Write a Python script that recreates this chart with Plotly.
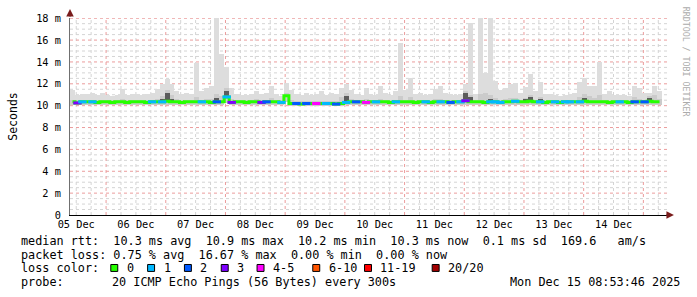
import plotly.graph_objects as go
import pandas as pd

# ---------------- data ----------------
bin_start = "2025-12-05 10:30"   # centre of first 2-hour bin
bin_count = 119

rtt_median = [10.35, 10.25, 10.35, 10.35, 10.35, 10.3, 10.35, 10.35, 10.3, 10.35,
              10.35, 10.3, 10.35, 10.35, 10.35, 10.3, 10.35, 10.35, 10.35, 10.4,
              10.35, 10.35, 10.3, 10.35, 10.35, 10.35, 10.35, 10.35, 10.3, 10.35,
              10.35, 10.8, 10.3, 10.35, 10.35, 10.3, 10.35, 10.35, 10.3, 10.35,
              10.35, 10.35, 10.3, 10.9, 10.2, 10.2, 10.15, 10.2, 10.2, 10.2,
              10.2, 10.2, 10.2, 10.15, 10.2, 10.3, 10.35, 10.35, 10.35, 10.3,
              10.35, 10.35, 10.35, 10.35, 10.3, 10.35, 10.35, 10.35, 10.35, 10.3,
              10.35, 10.35, 10.3, 10.35, 10.35, 10.35, 10.3, 10.35, 10.35, 10.45,
              10.35, 10.35, 10.35, 10.3, 10.35, 10.35, 10.3, 10.35, 10.35, 10.4,
              10.35, 10.35, 10.4, 10.35, 10.35, 10.3, 10.35, 10.35, 10.3, 10.35,
              10.35, 10.35, 10.35, 10.4, 10.35, 10.35, 10.35, 10.35, 10.3, 10.35,
              10.35, 10.35, 10.3, 10.35, 10.35, 10.35, 10.4, 10.35, 10.35]

rtt_min = [10.1, 10.05, 10.1, 10.1, 10.1, 10.1, 10.1, 10.1, 10.1, 10.1,
           10.1, 10.1, 10.1, 10.1, 10.1, 10.1, 10.1, 10.1, 10.1, 10.1,
           10.1, 10.1, 10.1, 10.1, 10.1, 10.1, 10.1, 10.1, 10.1, 10.1,
           10.1, 10.2, 10.1, 10.1, 10.1, 10.1, 10.1, 10.1, 10.1, 10.1,
           10.1, 10.1, 10.1, 10.3, 10.0, 10.0, 10.0, 10.0, 10.0, 10.0,
           10.0, 10.0, 10.0, 10.0, 10.0, 10.1, 10.1, 10.1, 10.1, 10.1,
           10.1, 10.1, 10.1, 10.1, 10.1, 10.1, 10.1, 10.1, 10.1, 10.1,
           10.1, 10.1, 10.1, 10.1, 10.1, 10.1, 10.1, 10.1, 10.1, 10.1,
           10.1, 10.1, 10.1, 10.1, 10.1, 10.1, 10.1, 10.1, 10.1, 10.1,
           10.1, 10.1, 10.1, 10.1, 10.1, 10.1, 10.1, 10.1, 10.1, 10.1,
           10.1, 10.1, 10.1, 10.1, 10.1, 10.1, 10.1, 10.1, 10.1, 10.1,
           10.1, 10.1, 10.1, 10.1, 10.1, 10.1, 10.1, 10.1, 10.1]

rtt_p75 = [10.55, 10.55, 10.55, 10.55, 10.55, 10.55, 10.55, 10.55, 10.55, 10.55,
           10.65, 10.55, 10.55, 10.55, 10.55, 10.55, 10.55, 10.65, 10.9, 11.4,
           11.0, 10.6, 10.55, 10.55, 10.55, 10.8, 10.55, 10.6, 10.6, 11.1,
           10.9, 11.6, 10.6, 10.55, 10.55, 10.55, 10.55, 10.6, 10.55, 10.55,
           10.7, 10.55, 10.5, 11.2, 10.5, 10.4, 10.4, 10.4, 10.4, 10.4,
           10.45, 10.4, 10.4, 10.4, 10.8, 11.2, 10.6, 10.55, 10.55, 10.6,
           10.55, 10.55, 10.6, 10.55, 10.55, 10.55, 10.9, 10.55, 10.8, 10.55,
           10.55, 10.55, 10.55, 10.6, 10.6, 10.55, 10.55, 10.55, 10.55, 11.3,
           11.0, 10.55, 11.1, 11.2, 11.0, 10.7, 10.55, 10.6, 10.7, 10.7,
           10.55, 10.7, 11.0, 10.55, 10.8, 10.55, 10.55, 10.55, 10.55, 10.55,
           10.55, 10.55, 10.8, 11.1, 10.9, 10.7, 11.0, 10.55, 10.55, 10.55,
           10.55, 10.55, 10.55, 10.8, 10.6, 10.55, 10.9, 11.0, 10.6]

rtt_dark = [10.35, 10.25, 10.35, 10.35, 10.35, 10.3, 10.35, 10.35, 10.3, 10.35,
            10.35, 10.3, 10.35, 10.35, 10.35, 10.3, 10.35, 10.35, 10.6, 11.2,
            10.6, 10.35, 10.3, 10.35, 10.35, 10.35, 10.35, 10.35, 10.3, 10.7,
            10.35, 11.3, 10.3, 10.35, 10.35, 10.3, 10.35, 10.35, 10.3, 10.35,
            10.35, 10.35, 10.3, 10.95, 10.2, 10.2, 10.15, 10.2, 10.2, 10.2,
            10.2, 10.2, 10.2, 10.15, 10.2, 10.9, 10.35, 10.35, 10.35, 10.3,
            10.35, 10.35, 10.35, 10.35, 10.3, 10.35, 10.35, 10.35, 10.35, 10.3,
            10.35, 10.35, 10.3, 10.35, 10.35, 10.35, 10.3, 10.35, 10.35, 11.2,
            10.8, 10.35, 10.35, 10.3, 10.6, 10.35, 10.3, 10.35, 10.35, 10.4,
            10.35, 10.6, 10.8, 10.35, 10.6, 10.3, 10.35, 10.35, 10.3, 10.35,
            10.35, 10.35, 10.35, 10.7, 10.35, 10.35, 10.35, 10.35, 10.3, 10.35,
            10.35, 10.35, 10.3, 10.35, 10.35, 10.35, 10.7, 10.35, 10.35]

rtt_max = [11.4, 11.0, 11.1, 11.1, 11.2, 11.0, 11.2, 11.0, 10.9, 11.0,
           11.5, 11.0, 11.1, 11.1, 11.0, 11.1, 11.2, 11.5, 12.0, 12.4,
           12.0, 11.3, 11.1, 11.2, 11.1, 13.9, 11.3, 11.6, 11.8, 18.1,
           14.7, 13.5, 11.6, 11.1, 11.0, 11.0, 11.1, 11.3, 11.1, 11.2,
           11.8, 11.1, 10.9, 12.1, 11.4, 11.1, 11.0, 11.2, 11.0, 11.1,
           11.3, 11.0, 11.2, 11.1, 11.6, 12.0, 11.4, 11.1, 11.0, 11.6,
           11.1, 11.0, 11.8, 11.2, 11.0, 11.3, 15.7, 11.4, 12.5, 11.1,
           11.2, 11.0, 11.1, 11.5, 11.8, 11.2, 11.1, 11.0, 11.1, 12.0,
           17.6, 11.1, 18.1, 13.0, 18.1, 12.3, 11.4, 11.6, 12.0, 12.1,
           11.2, 11.7, 12.9, 11.3, 12.2, 11.1, 11.1, 11.0, 10.9, 11.0,
           11.1, 11.2, 12.2, 12.5, 11.8, 11.8, 14.0, 11.1, 11.3, 11.0,
           11.0, 11.0, 10.9, 11.8, 11.6, 11.2, 11.2, 11.8, 11.3]

loss = [0, 3, 1, 0, 1, 0, 0, 0, 0, 0,
        0, 0, 0, 0, 0, 0, 1, 0, 1, 0,
        0, 0, 0, 0, 0, 0, 1, 0, 0, 2,
        0, 1, 3, 0, 0, 0, 0, 0, 3, 2,
        0, 0, 1, 0, 0, 2, 0, 2, 0, 5,
        0, 1, 0, 2, 0, 1, 0, 2, 0, 5,
        0, 1, 0, 0, 0, 1, 0, 0, 0, 0,
        0, 1, 0, 0, 1, 0, 2, 0, 1, 3,
        0, 0, 0, 0, 1, 1, 1, 0, 0, 1,
        0, 0, 0, 0, 1, 0, 0, 1, 0, 1,
        1, 0, 1, 0, 0, 0, 0, 0, 0, 0,
        1, 0, 0, 2, 0, 2, 0, 0, 0]

loss_labels = ["0", "1", "2", "3", "4-5", "6-10", "11-19", "20/20"]
loss_colors = ["#26ff00", "#00b8ff", "#0059ff", "#7e00ff",
               "#ff00ff", "#ff5500", "#ff0000", "#a10000"]

y_tickvals = [0, 2, 4, 6, 8, 10, 12, 14, 16, 18]
y_ticktext = ["0", "2 m", "4 m", "6 m", "8 m", "10 m", "12 m", "14 m", "16 m", "18 m"]

stats_rtt = "median rtt:  10.3 ms avg  10.9 ms max  10.2 ms min  10.3 ms now  0.1 ms sd  169.6   am/s"
stats_loss = "packet loss: 0.75 % avg  16.67 % max  0.00 % min  0.00 % now"
probe_text = "20 ICMP Echo Pings (56 Bytes) every 300s"
stamp_text = "Mon Dec 15 08:53:46 2025"
x_range = ["2025-12-05 09:30", "2025-12-15 09:30"]

# ---------------- figure ----------------
W, H = 697, 297
L, R, T, B = 67, 30, 16, 82
PW, PH = W - L - R, H - T - B
MONO = "DejaVu Sans Mono"


def px(x):
    return (x - L) / PW


def py(y):
    return (H - B - y) / PH


def loss_color(n):
    if n <= 3:
        return loss_colors[n]
    if n <= 5:
        return loss_colors[4]
    if n <= 10:
        return loss_colors[5]
    if n <= 19:
        return loss_colors[6]
    return loss_colors[7]


times = pd.date_range(bin_start, periods=bin_count, freq="2h")
bw = 2 * 3600 * 1000

# grid positions
x_major = list(pd.date_range("2025-12-06", "2025-12-15", freq="D"))
x_minor = [t for t in pd.date_range("2025-12-05 12:00", "2025-12-15 06:00", freq="6h")
           if t.hour != 0]
y_major = [2, 4, 6, 8, 10, 12, 14, 16, 18]
y_minor = [k * 0.5 for k in range(1, 37) if k % 4 != 0]

fig = go.Figure()


def smoke(lo, hi, color):
    fig.add_trace(go.Bar(x=times, y=[h - l for h, l in zip(hi, lo)], base=lo,
                         width=bw, marker=dict(color=color, line=dict(width=0)),
                         hoverinfo="skip", showlegend=False))


smoke(rtt_min, rtt_max, "#dddddd")
smoke(rtt_min, rtt_p75, "#cbcbcb")
smoke(rtt_median, rtt_dark, "#5c5c5c")

fig.add_trace(go.Scatter(x=times, y=rtt_median, mode="lines",
                         line=dict(color=loss_colors[0], width=3, shape="hvh"),
                         hoverinfo="skip", showlegend=False))

lx = [t for t, n in zip(times, loss) if n > 0]
ly = [m for m, n in zip(rtt_median, loss) if n > 0]
lc = [loss_color(n) for n in loss if n > 0]
fig.add_trace(go.Scatter(x=lx, y=ly, mode="markers",
                         marker=dict(symbol="line-ew", size=6,
                                     line=dict(width=3, color=lc)),
                         hoverinfo="skip", showlegend=False))

grid_minor = "#d4d4d4"
grid_major = "#eb9c9c"

fig.update_layout(
    width=W, height=H,
    margin=dict(l=L, r=R, t=T, b=B, pad=0),
    paper_bgcolor="white", plot_bgcolor="white",
    barmode="overlay", bargap=0,
    showlegend=False,
    font=dict(family=MONO, size=10, color="black"),
    xaxis=dict(
        type="date", range=x_range,
        tick0="2025-12-05", dtick=86400000, tickformat="%d %b",
        ticklabelmode="period", ticks="", showgrid=False,
        showline=True, linecolor="black", linewidth=1,
        zeroline=False,
        tickfont=dict(family=MONO, size=10.3, color="black"),
    ),
    yaxis=dict(
        range=[0, 18.02], tickvals=y_tickvals, ticktext=y_ticktext,
        ticks="", ticklabelstandoff=6, showgrid=False,
        showline=True, linecolor="#707070", linewidth=1,
        zeroline=False,
        title=dict(text="Seconds", font=dict(family=MONO, size=11.5), standoff=16),
        tickfont=dict(family=MONO, size=10.3, color="black"),
    ),
)

shapes = []
for t in x_minor:
    shapes.append(dict(type="line", xref="x", yref="paper", x0=t, x1=t, y0=0, y1=1,
                       layer="below", line=dict(color=grid_minor, width=1, dash="dot")))
for v in y_minor:
    shapes.append(dict(type="line", xref="paper", yref="y", x0=0, x1=1, y0=v, y1=v,
                       layer="below", line=dict(color=grid_minor, width=1, dash="dot")))
for t in x_major:
    shapes.append(dict(type="line", xref="x", yref="paper", x0=t, x1=t, y0=0, y1=1,
                       layer="below", line=dict(color=grid_major, width=1, dash="dot")))
for v in y_major:
    shapes.append(dict(type="line", xref="paper", yref="y", x0=0, x1=1, y0=v, y1=v,
                       layer="below", line=dict(color=grid_major, width=1, dash="dot")))

ann = []
# axis arrows
ann.append(dict(xref="paper", yref="paper", x=px(674), y=py(215), ax=-9, ay=0,
                text="", showarrow=True, arrowhead=2, arrowsize=1, arrowwidth=1.5,
                arrowcolor="#7a1c1c"))
ann.append(dict(xref="paper", yref="paper", x=px(67), y=py(7), ax=0, ay=9,
                text="", showarrow=True, arrowhead=2, arrowsize=1, arrowwidth=1.5,
                arrowcolor="#7a1c1c"))
# watermark
ann.append(dict(xref="paper", yref="paper", x=px(687), y=py(60), text="RRDTOOL / TOBI OETIKER",
                textangle=90, showarrow=False, xanchor="center", yanchor="middle",
                font=dict(family=MONO, size=8.3, color="#ababab")))

LEG = dict(family=MONO, size=11.8, color="black")


def text_at(x, y, s, anchor="left"):
    ann.append(dict(xref="paper", yref="paper", x=px(x), y=py(y), text=s,
                    showarrow=False, xanchor=anchor, yanchor="middle", font=LEG))


text_at(16, 241, stats_rtt)
text_at(16, 255.5, stats_loss)
text_at(16, 268.5, "loss color:")
text_at(16, 282.5, "probe:")
text_at(107, 282.5, probe_text)
text_at(682, 282.5, stamp_text, anchor="right")

label_x = [122, 159, 196, 233, 269, 325, 377, 445]
for lab, col, x in zip(loss_labels, loss_colors, label_x):
    text_at(x, 268.5, lab)
    shapes.append(dict(type="rect", xref="paper", yref="paper",
                       x0=px(x - 14), x1=px(x - 7), y0=py(272), y1=py(265),
                       fillcolor=col, line=dict(color="black", width=1)))

fig.update_layout(annotations=ann, shapes=shapes)
fig.write_html("out.html")
